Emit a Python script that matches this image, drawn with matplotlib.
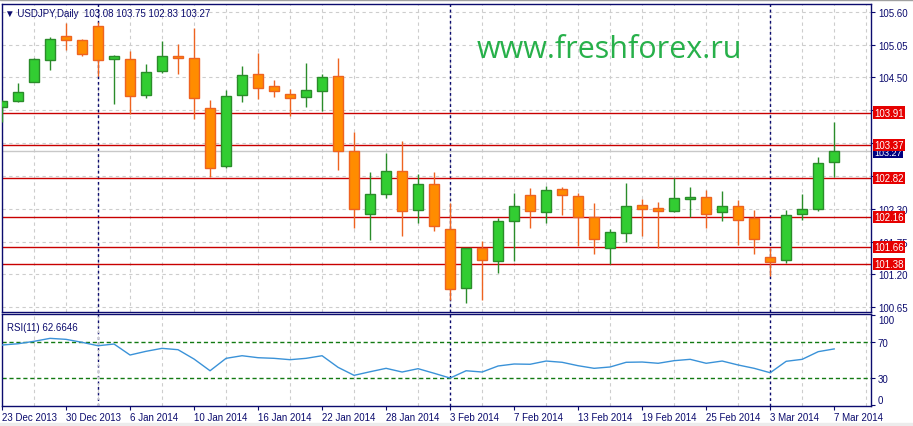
import matplotlib
matplotlib.use("Agg")
import matplotlib.pyplot as plt
import numpy as np

# daily USDJPY candles, 23 Dec 2013 .. 7 Mar 2014
opens = [104.00, 104.10, 104.43, 104.79, 105.19, 105.12, 105.36, 104.80, 104.80, 104.21,
         104.60, 104.85, 104.82, 103.98, 103.01, 104.20, 104.55, 104.35, 104.23, 104.17,
         104.27, 104.52, 103.26, 102.21, 102.54, 102.93, 102.28, 102.71, 101.96, 100.97,
         101.64, 101.43, 102.09, 102.53, 102.24, 102.63, 102.51, 102.16, 101.64, 101.89,
         102.36, 102.31, 102.26, 102.46, 102.49, 102.24, 102.35, 102.15, 101.49, 101.44,
         102.21, 102.29, 103.08]
highs = [104.12, 104.41, 104.82, 105.18, 105.41, 105.14, 105.43, 104.87, 104.94, 104.72,
         105.11, 105.06, 105.32, 104.12, 104.29, 104.69, 104.91, 104.46, 104.31, 104.74,
         104.56, 104.82, 103.59, 102.91, 103.23, 103.43, 102.88, 102.91, 102.40, 101.65,
         101.76, 102.15, 102.56, 102.65, 102.68, 102.66, 102.56, 102.40, 101.97, 102.73,
         102.46, 102.41, 102.81, 102.66, 102.61, 102.59, 102.44, 102.28, 101.65, 102.28,
         102.54, 103.16, 103.75]
lows = [103.76, 104.09, 104.42, 104.63, 104.96, 104.85, 104.53, 104.06, 103.89, 104.16,
        104.57, 104.56, 103.81, 102.84, 102.98, 104.08, 104.13, 104.17, 103.85, 104.01,
        103.94, 102.95, 101.98, 101.77, 102.48, 101.84, 102.07, 101.93, 100.77, 100.73,
        100.78, 101.22, 101.43, 101.98, 102.06, 102.20, 101.68, 101.55, 101.37, 101.74,
        101.84, 101.65, 102.25, 102.16, 101.98, 102.09, 101.70, 101.54, 101.18, 101.39,
        102.11, 102.26, 102.83]
closes = [104.10, 104.26, 104.80, 105.15, 105.12, 104.90, 104.79, 104.86, 104.19, 104.59,
          104.85, 104.82, 104.15, 102.98, 104.19, 104.54, 104.33, 104.28, 104.15, 104.29,
          104.50, 103.26, 102.29, 102.54, 102.93, 102.27, 102.71, 102.01, 100.95, 101.64,
          101.44, 102.09, 102.34, 102.26, 102.61, 102.53, 102.16, 101.79, 101.91, 102.34,
          102.29, 102.26, 102.48, 102.49, 102.22, 102.34, 102.11, 101.79, 101.41, 102.19,
          102.29, 103.06, 103.27]
rsi = [67.0, 68.4, 71.1, 74.4, 73.3, 70.0, 66.2, 68.1, 55.9, 60.0,
       63.3, 61.8, 51.4, 38.4, 52.2, 55.1, 52.9, 52.2, 50.7, 52.2,
       55.1, 42.2, 33.3, 37.3, 41.1, 37.0, 40.7, 35.6, 30.3, 38.4,
       37.0, 43.7, 45.9, 45.6, 49.2, 47.8, 44.0, 41.1, 42.6, 47.8,
       48.1, 46.7, 49.6, 51.1, 46.7, 49.2, 44.8, 41.1, 36.2, 48.9,
       51.1, 59.6, 62.6646]

date_labels = ["23 Dec 2013", "30 Dec 2013", "6 Jan 2014", "10 Jan 2014", "16 Jan 2014",
               "22 Jan 2014", "28 Jan 2014", "3 Feb 2014", "7 Feb 2014", "13 Feb 2014",
               "19 Feb 2014", "25 Feb 2014", "3 Mar 2014", "7 Mar 2014"]
date_bars = [0, 4, 8, 12, 16, 20, 24, 28, 32, 36, 40, 44, 48, 52]
month_bars = [6, 28, 48]   # first bar of Jan, Feb, Mar

price_ticks = [105.60, 105.05, 104.50, 103.95, 103.40, 102.85, 102.30, 101.75, 101.20, 100.65]
hidden_ticks = [103.95, 103.40, 102.85]   # covered by the level boxes in the terminal
levels = [103.91, 103.37, 102.82, 102.16, 101.66, 101.38]
rsi_levels = [30, 70]

NAVY = "#0b0b6e"
FONT = ["Liberation Sans", "DejaVu Sans"]


def style_panel(ax):
    """Common MT4-like frame, grid and right-hand scale"""
    for s in ax.spines.values():
        s.set_color(NAVY)
        s.set_linewidth(1.0)
    ax.set_xlim(0, 54.3)
    ax.set_xticks(range(0, 55, 2), minor=True)
    ax.grid(True, which="minor", axis="x", color="#cdcdcd", linestyle=(0, (3, 3)), lw=0.8)
    ax.tick_params(which="minor", length=0)
    ax.yaxis.tick_right()
    ax.tick_params(axis="y", direction="out", length=3, color=NAVY, labelcolor=NAVY,
                   labelsize=7, pad=2)
    for b in month_bars:
        ax.axvline(b, color=NAVY, lw=1.0, linestyle=(0, (2, 2)), zorder=1.5)


def plot_candles(ax):
    x = np.arange(len(opens))
    o = np.array(opens)
    c = np.array(closes)
    up = c >= o
    body_col = np.where(up, "#32cd32", "#ff8c00")
    edge_col = np.where(up, "#2a8c2a", "#ee6320")
    ax.vlines(x, lows, highs, colors=edge_col, lw=1.0, zorder=3)
    bottom = np.minimum(o, c)
    height = np.maximum(np.abs(c - o), 0.02)
    ax.bar(x, height, bottom=bottom, width=0.62, color=body_col, edgecolor=edge_col,
           linewidth=1.0, zorder=4)


def main():
    fig = plt.figure(figsize=(9.13, 4.27), dpi=100)
    fig.patches.append(plt.Rectangle((0, 0), 1, 3 / 427, transform=fig.transFigure,
                                     color="#ececec", zorder=0))
    fig.patches.append(plt.Rectangle((0, 1 - 1 / 427), 1, 1 / 427, transform=fig.transFigure,
                                     color="#a0a0a0", zorder=0))

    ax = fig.add_axes([2 / 913, 1 - 312.7 / 427, 869 / 913, 307.7 / 427])
    ax2 = fig.add_axes([2 / 913, 1 - 407.3 / 427, 869 / 913, 92.6 / 427])

    # price panel
    style_panel(ax)
    ax.set_ylim(100.577, 105.729)
    ax.set_yticks(price_ticks)
    ax.set_yticklabels(["" if p in hidden_ticks else f"{p:.2f}" for p in price_ticks],
                       family=FONT)
    ax.grid(True, which="major", axis="y", color="#cdcdcd", linestyle=(0, (3, 3)), lw=0.8)
    ax.set_xticks([])
    ax.set_axisbelow(True)

    plot_candles(ax)

    ax.axhline(closes[-1], color="#c8c8c8", lw=1.0, zorder=2)
    for lv in levels:
        ax.axhline(lv, color="#c80000", lw=1.0, zorder=2.2)

    yt = ax.get_yaxis_transform()
    ax.text(1.004, closes[-1] - 0.02, f"{closes[-1]:.2f}", transform=yt, ha="left",
            va="center", color="white", fontsize=6.5, family=FONT, clip_on=False, zorder=9,
            bbox=dict(boxstyle="square,pad=0.12", fc="#000080", ec="none"))
    for lv in levels:
        ax.text(1.004, lv, f"{lv:.2f}", transform=yt, ha="left", va="center",
                color="white", fontsize=7, family=FONT, clip_on=False, zorder=10,
                bbox=dict(boxstyle="square,pad=0.12", fc="#e60000", ec="none"))

    header = "\u25bc USDJPY,Daily  {:.2f} {:.2f} {:.2f} {:.2f}".format(
        opens[-1], highs[-1], lows[-1], closes[-1])
    ax.text(0.004, 0.971, header, transform=ax.transAxes, ha="left", va="center",
            color=NAVY, fontsize=7, family=FONT, zorder=11)

    fig.text(609 / 913, 1 - 50 / 427, "www.freshforex.ru", ha="center", va="center",
             color="#27b04a", fontsize=22, family=["Open Sans", "DejaVu Sans"])

    # RSI panel
    style_panel(ax2)
    ax2.set_ylim(-1.1, 101.8)
    ax2.set_yticks([0, 30, 70, 100])
    ax2.set_yticklabels(["0", "30", "70", "100"], family=FONT)
    lbls = ax2.get_yticklabels()
    lbls[0].set_va("bottom")
    lbls[3].set_va("top")
    for lv in rsi_levels:
        ax2.axhline(lv, color="#127a12", lw=1.0, linestyle=(0, (3, 2)), zorder=2)
    ax2.plot(np.arange(len(rsi)), rsi, color="#3a92d8", lw=1.0, zorder=3)
    ax2.text(0.006, 0.86, "RSI(11) {:.4f}".format(rsi[-1]), transform=ax2.transAxes,
             ha="left", va="center", color=NAVY, fontsize=7, family=FONT)

    ax2.set_xticks(date_bars)
    ax2.set_xticklabels(date_labels, family=FONT, ha="left")
    ax2.tick_params(axis="x", direction="out", length=3, color=NAVY, labelcolor=NAVY,
                    labelsize=7, pad=1)

    fig.savefig("out.png", dpi=100, facecolor="white")


if __name__ == "__main__":
    main()
